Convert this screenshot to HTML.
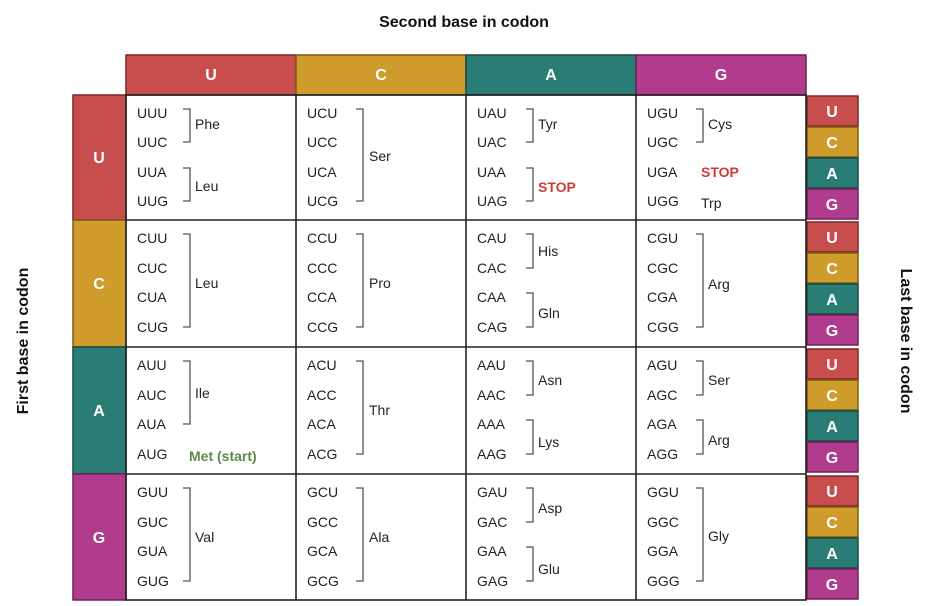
<!DOCTYPE html>
<html><head><meta charset="utf-8"><style>
body{margin:0;background:#fff}
svg{display:block;font-family:"Liberation Sans",Arial,sans-serif}
.c{font-size:14px;fill:#222}
.b{fill:none;stroke:#555;stroke-width:1.3}
.h{font-size:16px;font-weight:bold;fill:#fff;text-anchor:middle}
.s{font-size:14px;font-weight:bold;fill:#d23a36}
</style></head><body>
<svg width="935" height="606" viewBox="0 0 935 606">
<text x="464" y="27" text-anchor="middle" font-size="16" font-weight="bold" fill="#111">Second base in codon</text>
<text transform="translate(28,341) rotate(-90)" text-anchor="middle" font-size="16" font-weight="bold" fill="#111">First base in codon</text>
<text transform="translate(901,341) rotate(90)" text-anchor="middle" font-size="16" font-weight="bold" fill="#111">Last base in codon</text>

<!-- top headers -->
<rect x="126" y="55" width="170" height="40" fill="#c84d4d" stroke="#7a2626" stroke-width="1.5"/>
<rect x="296" y="55" width="170" height="40" fill="#cf9b2b" stroke="#7f5a13" stroke-width="1.5"/>
<rect x="466" y="55" width="170" height="40" fill="#2a7d74" stroke="#174a44" stroke-width="1.5"/>
<rect x="636" y="55" width="170" height="40" fill="#b13c8e" stroke="#6e2055" stroke-width="1.5"/>
<text class="h" x="211" y="80">U</text><text class="h" x="381" y="80">C</text><text class="h" x="551" y="80">A</text><text class="h" x="721" y="80">G</text>

<!-- left headers -->
<rect x="73" y="95" width="53" height="125" fill="#c84d4d" stroke="#7a2626" stroke-width="1.5"/>
<rect x="73" y="220" width="53" height="127" fill="#cf9b2b" stroke="#7f5a13" stroke-width="1.5"/>
<rect x="73" y="347" width="53" height="127" fill="#2a7d74" stroke="#174a44" stroke-width="1.5"/>
<rect x="73" y="474" width="53" height="126" fill="#b13c8e" stroke="#6e2055" stroke-width="1.5"/>
<text class="h" x="99" y="163">U</text><text class="h" x="99" y="289">C</text><text class="h" x="99" y="416">A</text><text class="h" x="99" y="543">G</text>

<!-- right headers -->
<g id="rh">
<rect x="807" y="96" width="51" height="30" fill="#c84d4d" stroke="#7a2626" stroke-width="1.5"/>
<rect x="807" y="127" width="51" height="30" fill="#cf9b2b" stroke="#7f5a13" stroke-width="1.5"/>
<rect x="807" y="158" width="51" height="30" fill="#2a7d74" stroke="#174a44" stroke-width="1.5"/>
<rect x="807" y="189" width="51" height="30" fill="#b13c8e" stroke="#6e2055" stroke-width="1.5"/>
<text class="h" x="832" y="117">U</text><text class="h" x="832" y="148">C</text><text class="h" x="832" y="179">A</text><text class="h" x="832" y="210">G</text>
</g>
<g transform="translate(0,126)">
<rect x="807" y="96" width="51" height="30" fill="#c84d4d" stroke="#7a2626" stroke-width="1.5"/>
<rect x="807" y="127" width="51" height="30" fill="#cf9b2b" stroke="#7f5a13" stroke-width="1.5"/>
<rect x="807" y="158" width="51" height="30" fill="#2a7d74" stroke="#174a44" stroke-width="1.5"/>
<rect x="807" y="189" width="51" height="30" fill="#b13c8e" stroke="#6e2055" stroke-width="1.5"/>
<text class="h" x="832" y="117">U</text><text class="h" x="832" y="148">C</text><text class="h" x="832" y="179">A</text><text class="h" x="832" y="210">G</text>
</g>
<g transform="translate(0,253)">
<rect x="807" y="96" width="51" height="30" fill="#c84d4d" stroke="#7a2626" stroke-width="1.5"/>
<rect x="807" y="127" width="51" height="30" fill="#cf9b2b" stroke="#7f5a13" stroke-width="1.5"/>
<rect x="807" y="158" width="51" height="30" fill="#2a7d74" stroke="#174a44" stroke-width="1.5"/>
<rect x="807" y="189" width="51" height="30" fill="#b13c8e" stroke="#6e2055" stroke-width="1.5"/>
<text class="h" x="832" y="117">U</text><text class="h" x="832" y="148">C</text><text class="h" x="832" y="179">A</text><text class="h" x="832" y="210">G</text>
</g>
<g transform="translate(0,380)">
<rect x="807" y="96" width="51" height="30" fill="#c84d4d" stroke="#7a2626" stroke-width="1.5"/>
<rect x="807" y="127" width="51" height="30" fill="#cf9b2b" stroke="#7f5a13" stroke-width="1.5"/>
<rect x="807" y="158" width="51" height="30" fill="#2a7d74" stroke="#174a44" stroke-width="1.5"/>
<rect x="807" y="189" width="51" height="30" fill="#b13c8e" stroke="#6e2055" stroke-width="1.5"/>
<text class="h" x="832" y="117">U</text><text class="h" x="832" y="148">C</text><text class="h" x="832" y="179">A</text><text class="h" x="832" y="210">G</text>
</g>

<!-- grid -->
<g fill="none" stroke="#222" stroke-width="1.6">
<rect x="126" y="95" width="680" height="505"/>
<path d="M296 95V600M466 95V600M636 95V600M126 220H806M126 347H806M126 474H806"/>
</g>

<!-- Row U -->
<g transform="translate(126,95)">
<text class="c" x="11" y="23">UUU</text><text class="c" x="11" y="52">UUC</text><text class="c" x="11" y="82">UUA</text><text class="c" x="11" y="111">UUG</text>
<path class="b" d="M57 14H64V47H57"/><text class="c" x="69" y="34">Phe</text>
<path class="b" d="M57 73H64V106H57"/><text class="c" x="69" y="96">Leu</text>
</g>
<g transform="translate(296,95)">
<text class="c" x="11" y="23">UCU</text><text class="c" x="11" y="52">UCC</text><text class="c" x="11" y="82">UCA</text><text class="c" x="11" y="111">UCG</text>
<path class="b" d="M60 14H67V106H60"/><text class="c" x="73" y="66">Ser</text>
</g>
<g transform="translate(466,95)">
<text class="c" x="11" y="23">UAU</text><text class="c" x="11" y="52">UAC</text><text class="c" x="11" y="82">UAA</text><text class="c" x="11" y="111">UAG</text>
<path class="b" d="M60 14H67V47H60"/><text class="c" x="72" y="34">Tyr</text>
<path class="b" d="M60 73H67V106H60"/><text class="s" x="72" y="97">STOP</text>
</g>
<g transform="translate(636,95)">
<text class="c" x="11" y="23">UGU</text><text class="c" x="11" y="52">UGC</text><text class="c" x="11" y="82">UGA</text><text class="c" x="11" y="111">UGG</text>
<path class="b" d="M60 14H67V47H60"/><text class="c" x="72" y="34">Cys</text>
<text class="s" x="65" y="82">STOP</text><text class="c" x="65" y="113">Trp</text>
</g>

<!-- Row C -->
<g transform="translate(126,220)">
<text class="c" x="11" y="23">CUU</text><text class="c" x="11" y="53">CUC</text><text class="c" x="11" y="82">CUA</text><text class="c" x="11" y="112">CUG</text>
<path class="b" d="M57 14H64V107H57"/><text class="c" x="69" y="68">Leu</text>
</g>
<g transform="translate(296,220)">
<text class="c" x="11" y="23">CCU</text><text class="c" x="11" y="53">CCC</text><text class="c" x="11" y="82">CCA</text><text class="c" x="11" y="112">CCG</text>
<path class="b" d="M60 14H67V107H60"/><text class="c" x="73" y="68">Pro</text>
</g>
<g transform="translate(466,220)">
<text class="c" x="11" y="23">CAU</text><text class="c" x="11" y="53">CAC</text><text class="c" x="11" y="82">CAA</text><text class="c" x="11" y="112">CAG</text>
<path class="b" d="M60 14H67V48H60"/><text class="c" x="72" y="36">His</text>
<path class="b" d="M60 73H67V107H60"/><text class="c" x="72" y="98">Gln</text>
</g>
<g transform="translate(636,220)">
<text class="c" x="11" y="23">CGU</text><text class="c" x="11" y="53">CGC</text><text class="c" x="11" y="82">CGA</text><text class="c" x="11" y="112">CGG</text>
<path class="b" d="M60 14H67V107H60"/><text class="c" x="72" y="69">Arg</text>
</g>

<!-- Row A -->
<g transform="translate(126,347)">
<text class="c" x="11" y="23">AUU</text><text class="c" x="11" y="53">AUC</text><text class="c" x="11" y="82">AUA</text><text class="c" x="11" y="112">AUG</text>
<path class="b" d="M57 14H64V77H57"/><text class="c" x="69" y="51">Ile</text>
<text x="63" y="114" font-size="14" font-weight="bold" fill="#5b8b4c">Met (start)</text>
</g>
<g transform="translate(296,347)">
<text class="c" x="11" y="23">ACU</text><text class="c" x="11" y="53">ACC</text><text class="c" x="11" y="82">ACA</text><text class="c" x="11" y="112">ACG</text>
<path class="b" d="M60 14H67V107H60"/><text class="c" x="73" y="68">Thr</text>
</g>
<g transform="translate(466,347)">
<text class="c" x="11" y="23">AAU</text><text class="c" x="11" y="53">AAC</text><text class="c" x="11" y="82">AAA</text><text class="c" x="11" y="112">AAG</text>
<path class="b" d="M60 14H67V48H60"/><text class="c" x="72" y="38">Asn</text>
<path class="b" d="M60 73H67V107H60"/><text class="c" x="72" y="100">Lys</text>
</g>
<g transform="translate(636,347)">
<text class="c" x="11" y="23">AGU</text><text class="c" x="11" y="53">AGC</text><text class="c" x="11" y="82">AGA</text><text class="c" x="11" y="112">AGG</text>
<path class="b" d="M60 14H67V48H60"/><text class="c" x="72" y="38">Ser</text>
<path class="b" d="M60 73H67V107H60"/><text class="c" x="72" y="98">Arg</text>
</g>

<!-- Row G -->
<g transform="translate(126,474)">
<text class="c" x="11" y="23">GUU</text><text class="c" x="11" y="53">GUC</text><text class="c" x="11" y="82">GUA</text><text class="c" x="11" y="112">GUG</text>
<path class="b" d="M57 14H64V107H57"/><text class="c" x="69" y="68">Val</text>
</g>
<g transform="translate(296,474)">
<text class="c" x="11" y="23">GCU</text><text class="c" x="11" y="53">GCC</text><text class="c" x="11" y="82">GCA</text><text class="c" x="11" y="112">GCG</text>
<path class="b" d="M60 14H67V107H60"/><text class="c" x="73" y="68">Ala</text>
</g>
<g transform="translate(466,474)">
<text class="c" x="11" y="23">GAU</text><text class="c" x="11" y="53">GAC</text><text class="c" x="11" y="82">GAA</text><text class="c" x="11" y="112">GAG</text>
<path class="b" d="M60 14H67V48H60"/><text class="c" x="72" y="39">Asp</text>
<path class="b" d="M60 73H67V107H60"/><text class="c" x="72" y="100">Glu</text>
</g>
<g transform="translate(636,474)">
<text class="c" x="11" y="23">GGU</text><text class="c" x="11" y="53">GGC</text><text class="c" x="11" y="82">GGA</text><text class="c" x="11" y="112">GGG</text>
<path class="b" d="M60 14H67V107H60"/><text class="c" x="72" y="67">Gly</text>
</g>
</svg>
</body></html>
